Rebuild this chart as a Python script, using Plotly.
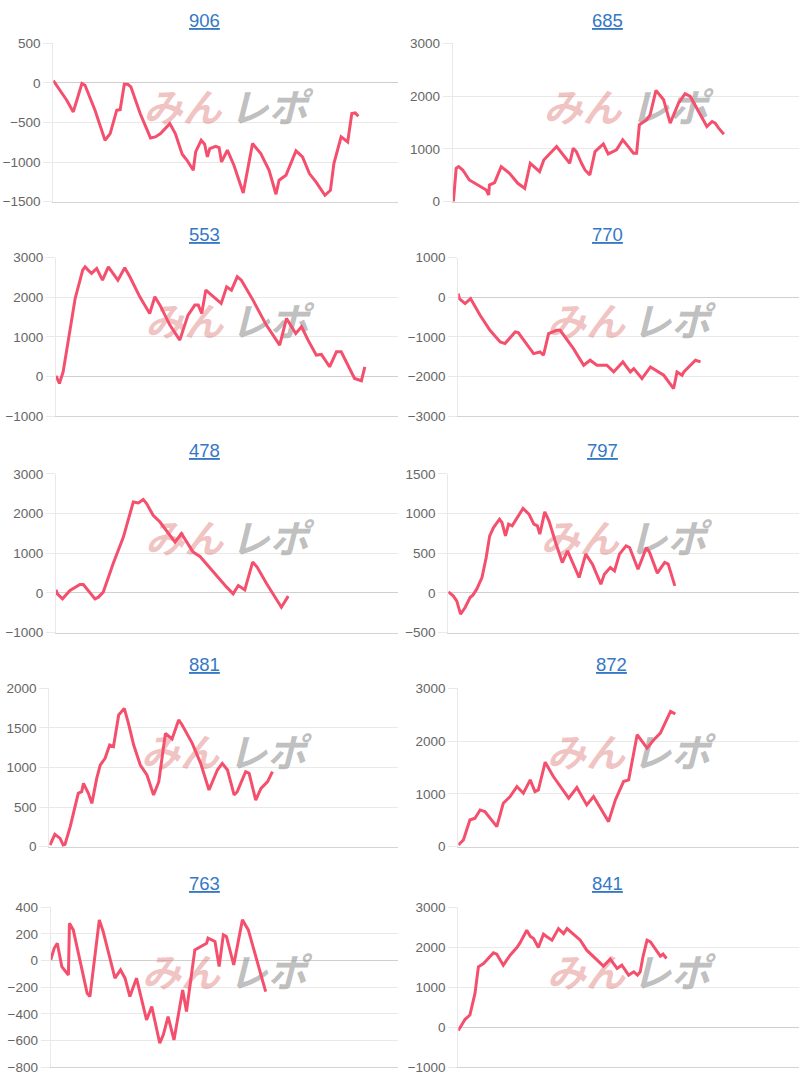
import plotly.graph_objects as go

# ---------------- data ----------------
machines = ["906", "685", "553", "770", "478", "797", "881", "872", "763", "841"]

x_906 = [0, 1.5, 3.9, 5.8, 8.3, 9.2, 12.1, 15.0, 16.5, 18.4, 19.4, 20.6, 21.6, 22.5, 25.2, 28.2, 29.6, 31.1,
         33.8, 35.4, 37.4, 38.8, 40.6, 41.3, 42.9, 43.9, 44.7, 45.4, 47.1, 48.1, 48.8, 50.5, 52.4, 55.1, 57.8,
         60.2, 62.6, 64.6, 65.5, 67.5, 70.4, 72.3, 74.3, 76.2, 78.8, 80.4, 81.4, 83.5, 85.4, 86.6, 87.6, 88.5]
y_906 = [30, -72, -219, -366, -8, -30, -345, -724, -640, -345, -337, -17, -17, -50, -387, -695, -682, -640,
         -514, -640, -900, -977, -1103, -871, -724, -775, -935, -829, -800, -817, -998, -850, -1040, -1389, -766,
         -893, -1103, -1406, -1229, -1166, -859, -935, -1145, -1250, -1419, -1356, -1019, -682, -745, -387, -379, -421]

x_685 = [0.2, 1.0, 1.7, 2.9, 4.8, 9.7, 10.4, 10.6, 12.1, 14.0, 16.4, 18.8, 20.8, 22.4, 25.1, 26.3, 30.0, 33.8,
         34.8, 35.7, 37.2, 38.2, 39.6, 41.1, 43.5, 44.9, 47.3, 49.1, 50.7, 52.2, 53.1, 53.9, 56.0, 57.0, 58.7,
         60.9, 62.8, 65.2, 67.1, 68.6, 73.4, 74.9, 75.8, 76.8, 78.3]
y_685 = [0, 633, 665, 601, 411, 222, 127, 316, 361, 665, 538, 348, 253, 728, 570, 791, 1044, 728,
         1013, 949, 728, 601, 506, 949, 1095, 905, 981, 1171, 1044, 918, 918, 1456, 1551, 1646, 2108,
         1931, 1487, 1867, 2045, 1994, 1424, 1519, 1487, 1393, 1279]

x_553 = [0, 1.0, 2.1, 3.6, 5.6, 7.8, 8.5, 9.4, 10.4, 11.9, 12.9, 13.6, 15.3, 16.7, 18.1, 20.1, 21.6, 24.5,
         27.4, 28.9, 30.4, 33.3, 36.2, 38.6, 40.6, 41.6, 42.6, 43.8, 46.0, 48.3, 49.9, 51.3, 53.0, 54.2, 57.6,
         61.5, 65.4, 67.4, 70.1, 71.8, 73.7, 76.1, 77.6, 80.0, 82.0, 83.4, 87.3, 89.3, 90.3]
y_553 = [17, -177, 118, 876, 1970, 2686, 2770, 2686, 2602, 2728, 2560, 2433, 2770, 2602, 2433, 2745, 2518, 2012,
         1591, 2012, 1802, 1297, 918, 1549, 1802, 1802, 1591, 2181, 2012, 1844, 2265, 2181, 2518, 2433, 1928,
         1297, 792, 1465, 1086, 1255, 918, 539, 556, 244, 623, 623, -51, -110, 244]

x_770 = [0, 0.3, 2.0, 2.9, 3.6, 6.4, 9.3, 12.3, 13.7, 16.7, 17.6, 22.1, 24.0, 25.0, 26.5, 28.9, 29.9, 33.8,
         36.8, 38.7, 40.7, 43.6, 45.6, 48.3, 50.5, 51.5, 53.9, 56.4, 60.3, 63.2, 64.2, 65.7, 66.2, 69.6, 71.1]
y_770 = [93, -34, -160, -101, -34, -455, -834, -1128, -1170, -876, -893, -1423, -1381, -1465, -918, -834, -834, -1297,
         -1718, -1591, -1718, -1718, -1886, -1633, -1886, -1802, -2054, -1760, -1970, -2307, -1886, -1970, -1886, -1591, -1633]

x_478 = [0, 0.4, 1.9, 4.1, 7.0, 8.0, 11.4, 12.4, 13.8, 16.7, 19.7, 22.6, 24.1, 25.5, 26.5, 28.4, 30.4, 34.8,
         36.7, 40.1, 42.1, 48.4, 49.9, 51.8, 53.3, 55.2, 57.5, 58.8, 61.6, 65.9, 67.9]
y_478 = [76, -25, -152, 59, 210, 210, -152, -109, 17, 733, 1406, 2290, 2265, 2349, 2248, 1953, 1785, 1280,
         1490, 1027, 918, 269, 143, -25, 185, 76, 775, 648, 227, -362, -84]

x_797 = [0, 1.4, 2.4, 3.5, 4.8, 6.2, 7.0, 8.1, 9.6, 10.8, 11.8, 12.9, 14.6, 15.3, 16.3, 17.2, 18.2, 19.6,
         21.3, 23.0, 24.4, 25.4, 26.1, 27.5, 28.7, 30.6, 32.5, 34.0, 37.3, 39.2, 41.1, 43.5, 44.5, 46.2, 47.4,
         48.8, 50.7, 51.7, 54.1, 56.5, 57.4, 59.6, 61.7, 62.7, 64.6]
y_797 = [13, -38, -101, -269, -185, -59, -29, 46, 193, 445, 718, 823, 928, 886, 718, 865, 844, 949,
         1063, 991, 865, 844, 739, 1021, 907, 634, 382, 529, 193, 487, 361, 109, 235, 319, 277,
         487, 592, 571, 298, 571, 508, 248, 382, 361, 88]

x_881 = [0.2, 1.6, 3.1, 4.0, 4.5, 6.0, 8.3, 9.3, 9.8, 11.2, 12.2, 13.6, 14.6, 16.0, 17.3, 18.4, 19.9, 21.5,
         22.7, 24.2, 26.1, 28.0, 29.9, 31.4, 33.3, 35.2, 37.1, 38.1, 41.0, 43.4, 45.8, 48.2, 49.6, 51.1, 53.0,
         53.9, 56.3, 57.3, 59.2, 60.7, 62.6, 64.0]
y_881 = [21, 156, 105, 21, 29, 253, 674, 695, 800, 674, 547, 863, 1031, 1116, 1284, 1263, 1663, 1747,
         1558, 1284, 1031, 905, 653, 821, 1431, 1360, 1600, 1537, 1305, 1052, 716, 968, 1052, 968, 653,
         695, 947, 926, 589, 737, 821, 947]

x_872 = [0, 1.5, 3.4, 4.9, 6.4, 7.8, 11.3, 13.2, 15.2, 17.2, 19.1, 21.1, 22.5, 23.5, 25.5, 27.9, 32.4, 34.8,
         37.7, 39.7, 44.1, 46.1, 48.5, 50.0, 52.5, 55.4, 57.4, 59.3, 62.3, 63.7]
y_872 = [32, 127, 506, 538, 696, 665, 380, 823, 949, 1139, 1013, 1266, 1044, 1076, 1601, 1329, 918, 1120,
         791, 949, 475, 886, 1234, 1266, 2120, 1867, 2025, 2152, 2563, 2513]

x_763 = [0, 1.0, 1.9, 3.2, 5.1, 5.4, 6.5, 10.5, 11.3, 14.0, 15.1, 18.5, 20.1, 21.4, 22.8, 24.7, 27.6, 29.1,
         31.4, 32.4, 33.8, 35.5, 38.0, 39.1, 41.5, 44.9, 45.3, 47.3, 48.5, 49.7, 50.6, 52.7, 55.2, 56.9, 61.9]
y_763 = [5, 92, 130, -45, -108, 280, 230, -245, -270, 305, 218, -132, -70, -132, -270, -132, -445, -345,
         -620, -558, -420, -595, -220, -382, 80, 130, 168, 143, -45, 193, 180, -33, 305, 230, -233]

x_841 = [0, 1.0, 2.0, 3.4, 4.9, 5.9, 7.4, 8.3, 10.3, 11.3, 13.2, 15.2, 17.2, 18.1, 20.1, 21.1, 22.1, 23.5,
         25.0, 26.0, 27.5, 29.4, 30.9, 31.9, 33.8, 35.8, 37.7, 39.7, 42.6, 44.6, 46.6, 48.0, 50.0, 51.5, 52.6,
         53.4, 54.2, 55.4, 56.4, 59.3, 60.1, 61.1]
y_841 = [-83, 58, 199, 307, 847, 1511, 1594, 1677, 1859, 1826, 1552, 1801, 1992, 2108, 2424, 2274, 2216, 1992,
         2324, 2260, 2175, 2465, 2341, 2465, 2324, 2175, 1926, 1760, 1527, 1702, 1469, 1552, 1303, 1386, 1303,
         1386, 1760, 2175, 2133, 1776, 1826, 1718]

y_ranges = [[-1500, 500], [0, 3000], [-1000, 3000], [-3000, 1000], [-1000, 3000],
            [-500, 1500], [0, 2000], [0, 3000], [-800, 400], [-1000, 3000]]
y_dticks = [500, 1000, 1000, 1000, 1000, 500, 500, 1000, 200, 1000]

series_x = [x_906, x_685, x_553, x_770, x_478, x_797, x_881, x_872, x_763, x_841]
series_y = [y_906, y_685, y_553, y_770, y_478, y_797, y_881, y_872, y_763, y_841]
x_range = [0, 100]

watermark_left = "みん"
watermark_right = "レポ"

# ---------------- layout geometry (pixels) ----------------
W, H = 800, 1080
axis_left = [53.3, 452.7, 56, 458.3, 56, 448.3, 49.3, 458.3, 50.7, 458.3]
axis_right = [398, 799, 398, 799, 398, 799, 398, 799, 398, 799]
row_top = [43.3, 257.7, 473.8, 688.3, 907.2]
row_bottom = [201.7, 416, 632.5, 846.7, 1067.3]
title_x = [204, 607, 205, 607, 205, 602, 204, 611.5, 205, 607.3]
title_y = [20.5, 234, 450.3, 664.5, 883.3]

LINE = "#f4506e"
GRID = "#e9e9e9"
FONT = "Arial, 'Liberation Sans', Helvetica, sans-serif"

fig = go.Figure()
annotations = []

for i, name in enumerate(machines):
    r, c = divmod(i, 2)
    k = "" if i == 0 else str(i + 1)
    xa, ya = "x" + k, "y" + k
    lo, hi = y_ranges[i]
    # watermark (drawn beneath the line)
    xm = x_range[0] + (x_range[1] - x_range[0]) * 0.5
    half = (x_range[1] - x_range[0]) * 0.125
    ym = lo + (hi - lo) * 0.565
    fig.add_trace(go.Scatter(
        x=[xm - half, xm + half], y=[ym, ym], mode="text",
        text=[watermark_left, watermark_right],
        textfont=dict(family="'Noto Sans CJK JP'", size=39, weight="bold", style="italic",
                      color=["rgba(222,110,110,0.42)", "rgba(150,150,150,0.62)"]),
        hoverinfo="skip", showlegend=False, xaxis=xa, yaxis=ya))
    fig.add_trace(go.Scatter(
        x=series_x[i], y=series_y[i], mode="lines",
        line=dict(color=LINE, width=3), showlegend=False,
        xaxis=xa, yaxis=ya, name=name))

    xdom = [axis_left[i] / W, axis_right[i] / W]
    ydom = [1 - row_bottom[r] / H, 1 - row_top[r] / H]
    fig.layout["xaxis" + k] = dict(
        domain=xdom, range=x_range, anchor=ya, showgrid=False, zeroline=False,
        showticklabels=False, ticks="", showline=True, linecolor="#d4d4d4", linewidth=1,
        automargin=False, fixedrange=True)
    fig.layout["yaxis" + k] = dict(
        domain=ydom, range=[lo, hi], anchor=xa, dtick=y_dticks[i], tick0=0,
        showgrid=True, gridcolor=GRID, gridwidth=1,
        zeroline=True, zerolinecolor="#cfcfcf", zerolinewidth=1,
        showline=True, linecolor=GRID, linewidth=1,
        ticks="outside", ticklen=9, tickcolor=GRID,
        tickfont=dict(family=FONT, size=13.5, color="#666666"),
        automargin=False, fixedrange=True)

    annotations.append(dict(
        text="<u>" + name + "</u>", xref="paper", yref="paper",
        x=title_x[i] / W, y=1 - title_y[r] / H, xanchor="center", yanchor="middle",
        showarrow=False, font=dict(family=FONT, size=18.5, color="#3478c6")))

fig.update_layout(
    width=W, height=H, autosize=False,
    margin=dict(l=0, r=0, t=0, b=0, pad=0),
    paper_bgcolor="white", plot_bgcolor="white",
    annotations=annotations, showlegend=False)

fig.write_html("out.html", config={"displayModeBar": False},
               post_script="document.body.style.margin='0';document.body.style.overflow='hidden';")
